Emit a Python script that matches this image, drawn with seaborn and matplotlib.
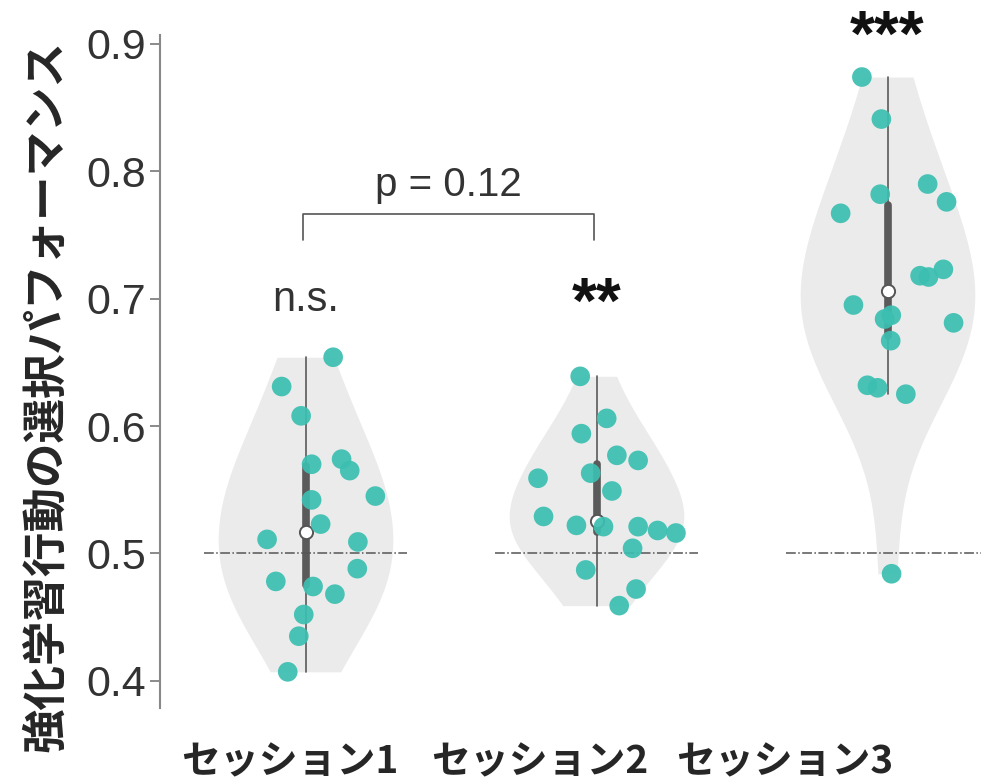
import numpy as np
import pandas as pd
import matplotlib
matplotlib.use("Agg")
import matplotlib.pyplot as plt
import seaborn as sns

sessions = ["セッション1", "セッション2", "セッション3"]

# performance per participant
session1 = [0.654, 0.631, 0.608, 0.570, 0.574, 0.565, 0.545, 0.542, 0.523,
            0.511, 0.509, 0.488, 0.478, 0.474, 0.468, 0.452, 0.435, 0.407]
session2 = [0.639, 0.606, 0.594, 0.577, 0.573, 0.559, 0.563, 0.549, 0.529,
            0.522, 0.521, 0.521, 0.518, 0.516, 0.504, 0.487, 0.472, 0.459]
session3 = [0.874, 0.841, 0.790, 0.782, 0.776, 0.767, 0.723, 0.718, 0.717,
            0.695, 0.681, 0.687, 0.684, 0.667, 0.632, 0.630, 0.625, 0.484]

# horizontal jitter of each dot (category units)
jitter1 = [0.095, -0.082, -0.015, 0.021, 0.124, 0.152, 0.240, 0.021, 0.052,
           -0.132, 0.180, 0.178, -0.102, 0.026, 0.101, -0.006, -0.023, -0.061]
jitter2 = [-0.056, 0.035, -0.052, 0.070, 0.143, -0.201, -0.020, 0.053, -0.182,
           -0.069, 0.024, 0.143, 0.210, 0.273, 0.124, -0.037, 0.136, 0.078]
jitter3 = [-0.088, -0.021, 0.138, -0.025, 0.203, -0.161, 0.192, 0.112, 0.141,
           -0.117, 0.227, 0.013, -0.010, 0.011, -0.069, -0.034, 0.063, 0.014]

chance = 0.5
signif = ["n.s.", "**", "***"]
p_text = "p = 0.12"

rows = []
for i, (vals, jit) in enumerate([(session1, jitter1), (session2, jitter2), (session3, jitter3)]):
    for v, j in zip(vals, jit):
        rows.append({"session": sessions[i], "value": v, "xpos": i + j})
df = pd.DataFrame(rows)
med = df.groupby("session", sort=False)["value"].median().reset_index()
med["xpos"] = range(len(med))

sns.set_style("ticks")
plt.rcParams["font.family"] = ["Liberation Sans", "DejaVu Sans"]

fig = plt.figure(figsize=(9.81, 7.84), dpi=100)
ax = fig.add_axes([160 / 981, 76.5 / 784, 873 / 981, 672.5 / 784])

sns.violinplot(data=df, x="session", y="value", order=sessions, color="#ebebeb",
               saturation=1, linewidth=0, cut=0, width=0.6, density_norm="width",
               bw_adjust=1.2, inner="box",
               inner_kws=dict(box_width=5.5, whis_width=1.2, color="#5a5a5a"),
               ax=ax)

for i in range(len(sessions)):
    ax.hlines(chance, i - 0.35, i + 0.35, colors="#555555", linestyles="-.", linewidth=1.1, zorder=3)

# median dots (white with dark rim)
sns.scatterplot(data=med, x="xpos", y="value", s=90, color="white", edgecolor="#555555",
                linewidth=1.4, legend=False, ax=ax, zorder=4)

sns.scatterplot(data=df, x="xpos", y="value", s=200, color="#3cbfb1", alpha=0.93,
                edgecolor="none", legend=False, ax=ax, zorder=5)

ax.set_xlim(-0.5, 2.5)
ax.set_ylim(0.379, 0.907)
ax.set_yticks([0.4, 0.5, 0.6, 0.7, 0.8, 0.9])
ax.set_yticklabels(["0.4", "0.5", "0.6", "0.7", "0.8", "0.9"])
ax.tick_params(axis="y", labelsize=31, colors="#777777", labelcolor="#333333",
               length=7, width=1.2, pad=3)
ax.set_xticks([])
ax.set_xlabel("")
ax.set_ylabel("")
for side in ["top", "right", "bottom"]:
    ax.spines[side].set_visible(False)
ax.spines["left"].set_color("#888888")
ax.spines["left"].set_linewidth(1.5)

# significance marks
ax.text(0, 0.690, signif[0], ha="center", va="baseline", fontsize=30, color="#333333")
ax.text(1, 0.681, signif[1], ha="center", va="baseline", fontsize=46,
        fontweight="bold", color="#111111")
ax.text(2, 0.891, signif[2], ha="center", va="baseline", fontsize=46,
        fontweight="bold", color="#111111", clip_on=False)

# bracket between session 1 and 2
ax.plot([-0.01, -0.01, 0.99, 0.99], [0.746, 0.7666, 0.7666, 0.746], color="#555555", linewidth=1.2)
ax.text(0.49, 0.7807, p_text, ha="center", va="baseline", fontsize=29, color="#333333")

jp = ["Noto Sans CJK JP", "DejaVu Sans"]
fig.text(46 / 981, 1 - 396 / 784, "強化学習行動の選択パフォーマンス", rotation=90,
         ha="center", va="center", fontsize=32, fontweight="bold", family=jp)
for cx, lab in zip([290, 540, 785], sessions):
    fig.text(cx / 981, 1 - 762 / 784, lab, ha="center", va="center",
             fontsize=28, fontweight="bold", family=jp)

fig.savefig("out.png", dpi=100)
